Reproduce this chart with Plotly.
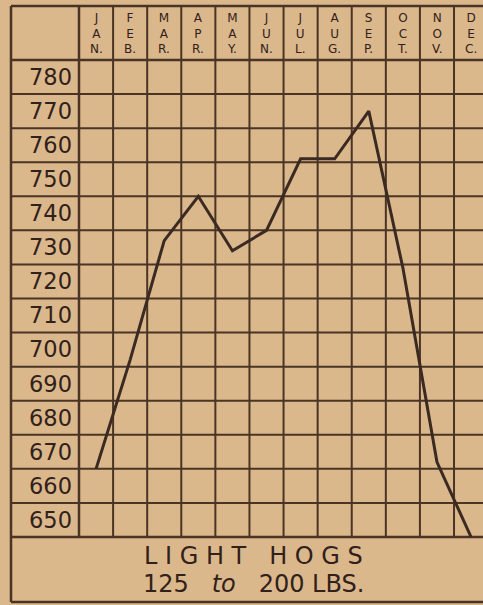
import plotly.graph_objects as go

# Monthly price line, light hogs 125 to 200 lbs.
months = ["JAN.", "FEB.", "MAR.", "APR.", "MAY.", "JUN.",
          "JUL.", "AUG.", "SEP.", "OCT.", "NOV.", "DEC."]
month_headers = ["J<br>A<br>N.", "F<br>E<br>B.", "M<br>A<br>R.", "A<br>P<br>R.",
                 "M<br>A<br>Y.", "J<br>U<br>N.", "J<br>U<br>L.", "A<br>U<br>G.",
                 "S<br>E<br>P.", "O<br>C<br>T.", "N<br>O<br>V.", "D<br>E<br>C."]
prices = [670, 702, 737, 750, 734, 740, 761, 761, 775, 729, 672, 650]
row_values = list(range(650, 790, 10))          # labelled rows 650 .. 780
title_line1 = "L I G H T   H O G S"
title_line2 = "125   <i>to</i>   200 LBS."

PAPER = "#dbb78c"
INK = "#30211a"
GRID = "#4a3424"

W, H = 483, 605
ML, MT, MB = 79, 60, 68
plot_w = W - ML
plot_h = H - MT - MB


def px_x(px):
    return (px - ML) / plot_w


def px_y(py):
    return (H - MB - py) / plot_h


left_edge = px_x(11)
top_edge = px_y(6)
bottom_edge = px_y(602)

fig = go.Figure()
fig.add_trace(go.Scatter(
    x=list(range(len(months))), y=prices, mode="lines",
    line=dict(color="#3a2a21", width=3),
    hoverinfo="skip", showlegend=False,
))

shapes = []
line_style = dict(color=GRID, width=2)
frame_style = dict(color=GRID, width=2.5)

# horizontal rules through the label column and the grid
for v in row_values[1:]:
    shapes.append(dict(type="line", xref="paper", yref="y",
                       x0=left_edge, x1=1, y0=v, y1=v, line=line_style, layer="below"))
# vertical rules through the header and the grid
for i in range(len(months) - 1):
    shapes.append(dict(type="line", xref="x", yref="paper",
                       x0=i + 0.5, x1=i + 0.5, y0=0, y1=top_edge, line=line_style, layer="below"))

# frame: outer border, header bottom, label column, title box
for x0, y0, x1, y1 in [
    (left_edge, top_edge, 1, top_edge),
    (left_edge, bottom_edge, 1, bottom_edge),
    (left_edge, bottom_edge, left_edge, top_edge),
    (left_edge, 1, 1, 1),
    (left_edge, 0, 1, 0),
    (0, 0, 0, top_edge),
]:
    shapes.append(dict(type="line", xref="paper", yref="paper",
                       x0=x0, y0=y0, x1=x1, y1=y1, line=frame_style, layer="below"))

annotations = []
for i, head in enumerate(month_headers):
    annotations.append(dict(
        x=i, y=px_y(33), xref="x", yref="paper",
        text=head, showarrow=False, xanchor="center", yanchor="middle",
        font=dict(family="DejaVu Sans", size=12, color=INK),
    ))

title_x = px_x(253)
annotations.append(dict(
    x=title_x, y=px_y(556), xref="paper", yref="paper",
    text=title_line1, showarrow=False, xanchor="center", yanchor="middle",
    font=dict(family="DejaVu Sans", size=24, color=INK),
))
annotations.append(dict(
    x=title_x, y=px_y(584), xref="paper", yref="paper",
    text=title_line2, showarrow=False, xanchor="center", yanchor="middle",
    font=dict(family="DejaVu Sans", size=24, color=INK),
))

fig.update_layout(
    width=W, height=H,
    margin=dict(l=ML, r=0, t=MT, b=MB, pad=0),
    paper_bgcolor=PAPER, plot_bgcolor=PAPER,
    shapes=shapes, annotations=annotations,
    showlegend=False,
    xaxis=dict(range=[-0.5, 11.35], showgrid=False, zeroline=False,
               showticklabels=False, showline=False, ticks="", fixedrange=True),
    yaxis=dict(range=[650, 790], showgrid=False, zeroline=False, showline=False,
               tickmode="array", tickvals=[v + 5 for v in row_values],
               ticktext=[str(v) for v in row_values], ticks="",
               ticklabelstandoff=6,
               tickfont=dict(family="DejaVu Sans", size=22.5, color=INK),
               fixedrange=True),
)

fig.write_html("out.html", config={"displayModeBar": False})
